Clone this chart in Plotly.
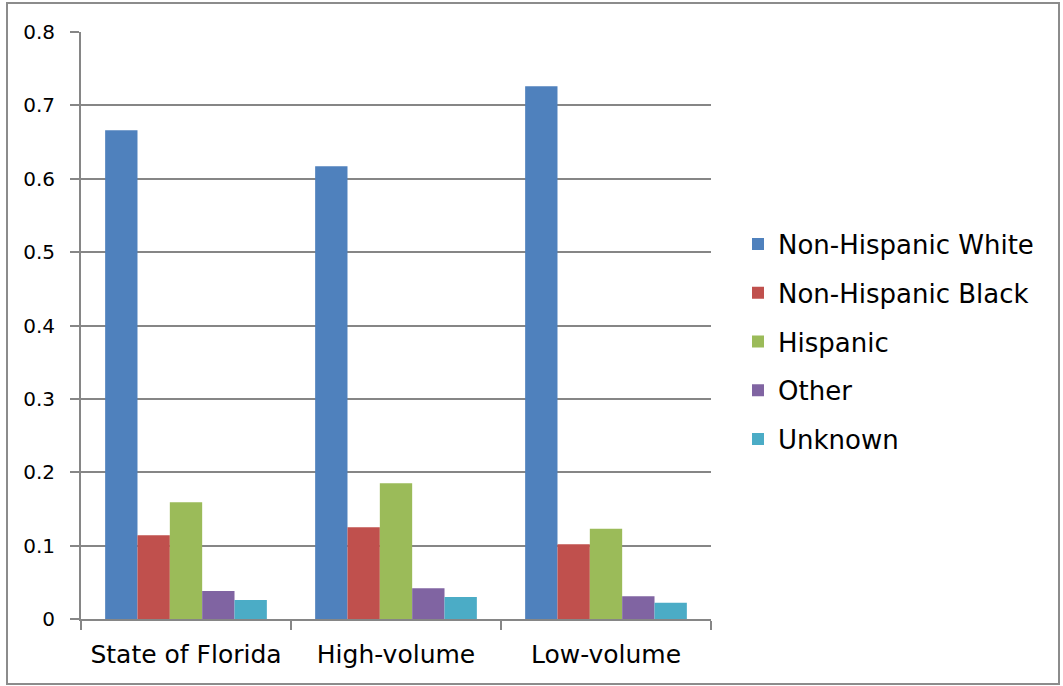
import plotly.graph_objects as go

categories = ["State of Florida", "High-volume", "Low-volume"]
series_names = ["Non-Hispanic White", "Non-Hispanic Black", "Hispanic", "Other", "Unknown"]
white = [0.666, 0.617, 0.726]
black = [0.114, 0.125, 0.102]
hispanic = [0.159, 0.185, 0.123]
other = [0.038, 0.042, 0.031]
unknown = [0.026, 0.030, 0.022]
y_ticks = [0, 0.1, 0.2, 0.3, 0.4, 0.5, 0.6, 0.7, 0.8]
colors = ["#4F81BD", "#C0504D", "#9BBB59", "#8064A2", "#4BACC6"]

W, H = 1063, 686
ML, MR, MT, MB = 81, 352, 32, 67

fig = go.Figure()
for name, vals, col in zip(series_names, [white, black, hispanic, other, unknown], colors):
    fig.add_trace(go.Bar(name=name, x=categories, y=vals, marker_color=col,
                         marker_line_width=0, legendgroup=name))

pw = W - ML - MR
ph = H - MT - MB
def px_x(p):
    return (p - ML) / pw
def px_y(p):
    return 1 - (p - MT) / ph

font_family = "DejaVu Sans"
line_col = "#868686"
fig.update_layout(
    width=W, height=H,
    margin=dict(l=ML, r=MR, t=MT, b=MB, autoexpand=False),
    paper_bgcolor="white", plot_bgcolor="white",
    barmode="group", bargap=0.23, bargroupgap=0,
    font=dict(family=font_family, color="black"),
    legend=dict(x=px_x(738), xanchor="left", y=px_y(342), yanchor="middle",
                font=dict(size=26, family=font_family), tracegroupgap=12,
                traceorder="grouped", bgcolor="rgba(0,0,0,0)"),
    xaxis=dict(showline=True, linecolor=line_col, linewidth=1.8,
               ticks="outside", tickson="boundaries", ticklen=9, tickcolor=line_col,
               tickwidth=1.8, ticklabelstandoff=12,
               tickfont=dict(size=25, family=font_family), showgrid=False),
    yaxis=dict(range=[0, 0.8], tickvals=y_ticks, ticktext=[f"{v:g}" for v in y_ticks],
               showline=True, linecolor=line_col, linewidth=1.8,
               ticks="outside", ticklen=9, tickcolor=line_col, tickwidth=1.8,
               ticklabelstandoff=11,
               gridcolor=line_col, gridwidth=1.8, zeroline=False,
               tickfont=dict(size=20, family=font_family)),
    shapes=[dict(type="rect", xref="paper", yref="paper",
                 x0=px_x(7), x1=px_x(1059), y0=px_y(684), y1=px_y(3),
                 line=dict(color="#8c8c8c", width=2), fillcolor="rgba(0,0,0,0)",
                 layer="below")],
)

fig.write_html("out.html", config={"displayModeBar": False},
               post_script="document.body.style.margin='0';")
